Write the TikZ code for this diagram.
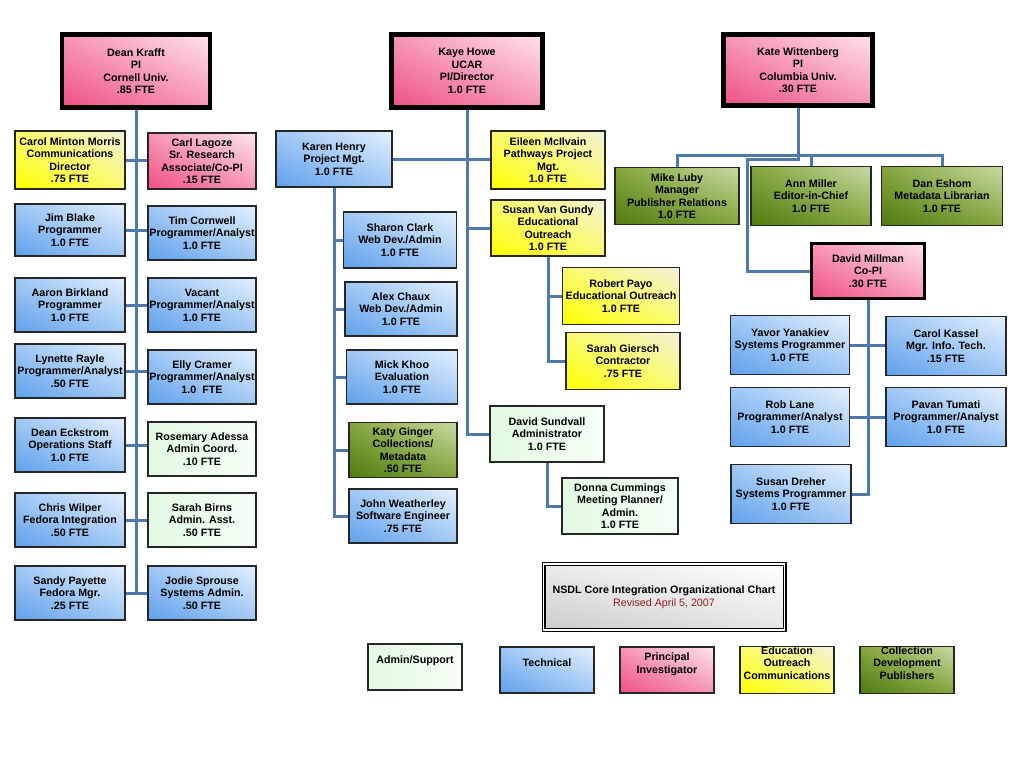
\documentclass[tikz,border=0pt]{standalone}
\usepackage{fontspec}
\setmainfont{Liberation Sans}
\usepackage{xcolor}
\usepackage{tikz}
\usetikzlibrary{positioning,shadings,backgrounds}
\definecolor{techlo}{RGB}{95,160,235}
\definecolor{techmid}{RGB}{160,200,245}
\definecolor{techhi}{RGB}{228,240,253}
\definecolor{pilo}{RGB}{238,80,130}
\definecolor{pimid}{RGB}{246,150,182}
\definecolor{pihi}{RGB}{255,228,236}
\definecolor{edulo}{RGB}{255,255,0}
\definecolor{edumid}{RGB}{250,250,110}
\definecolor{eduhi}{RGB}{242,242,218}
\definecolor{colllo}{RGB}{80,122,15}
\definecolor{collmid}{RGB}{132,166,60}
\definecolor{collhi}{RGB}{200,218,165}
\definecolor{admlo}{RGB}{226,249,226}
\definecolor{admhi}{RGB}{246,255,246}
\definecolor{linkblue}{RGB}{79,121,172}
\definecolor{revred}{RGB}{150,30,30}
\newcommand{\boxfont}{\fontsize{10.7}{12.5}\selectfont\bfseries}

\tikzset{
  orgbox/.style={draw=black!85, line width=1.4pt, align=center, font=\boxfont,
    inner sep=1pt, minimum width=108pt, minimum height=54pt},
  tech/.style={orgbox, lower left=techlo, upper right=techhi,
    upper left=techmid, lower right=techmid},
  pinode/.style={orgbox, lower left=pilo, upper right=pihi,
    upper left=pimid, lower right=pimid},
  pihead/.style={pinode, draw=black, line width=4.5pt},
  edu/.style={orgbox, lower left=edulo, upper right=eduhi,
    upper left=edumid, lower right=edumid},
  coll/.style={orgbox, lower left=colllo, upper right=collhi,
    upper left=collmid, lower right=collmid},
  admin/.style={orgbox, lower left=admlo, upper right=admhi,
    upper left=admlo, lower right=admhi},
  legend/.style={minimum width=94pt, minimum height=46pt, inner sep=0pt, text depth=14pt},
  titlebox/.style={draw=black, line width=1.3pt, double=white, double distance=1.4pt,
    lower left=black!20, upper right=white, upper left=black!8, lower right=black!10,
    align=center, font=\boxfont, minimum width=241pt, minimum height=66pt},
  link/.style={draw=linkblue, line width=3pt}
}

\begin{document}
\begin{tikzpicture}[x=1pt,y=-1pt]
\useasboundingbox (0,0) rectangle (1024,768);

% Cornell
\node[pihead, minimum width=148pt, minimum height=73pt] (krafft) at (136,71) {Dean Krafft\\PI\\Cornell Univ.\\.85 FTE};
\node[edu, minimum width=110pt, minimum height=58pt] (morris) at (70,160) {Carol Minton Morris\\Communications\\Director\\.75 FTE};
\node[pinode, minimum height=56pt] (lagoze) at (202,161) {Carl Lagoze\\Sr. Research\\Associate/Co-PI\\.15 FTE};
\node[tech, minimum width=110pt, minimum height=52pt] (blake) at (70,230) {Jim Blake\\Programmer\\1.0 FTE};
\node[tech] (cornwell) at (202,233) {Tim Cornwell\\Programmer/Analyst\\1.0 FTE};
\node[tech, minimum width=110pt] (birkland) at (70,305) {Aaron Birkland\\Programmer\\1.0 FTE};
\node[tech] (vacant) at (202,305) {Vacant\\Programmer/Analyst\\1.0 FTE};
\node[tech, minimum width=110pt] (rayle) at (70,371) {Lynette Rayle\\Programmer/Analyst\\.50 FTE};
\node[tech] (cramer) at (202,377) {Elly Cramer\\Programmer/Analyst\\1.0~~FTE};
\node[tech, minimum width=110pt] (eckstrom) at (70,445) {Dean Eckstrom\\Operations Staff\\1.0 FTE};
\node[admin] (adessa) at (202,449) {Rosemary Adessa\\Admin Coord.\\.10 FTE};
\node[tech, minimum width=110pt] (wilper) at (70,520) {Chris Wilper\\Fedora Integration\\.50 FTE};
\node[admin] (birns) at (202,520) {Sarah Birns\\Admin. Asst.\\.50 FTE};
\node[tech, minimum width=110pt] (payette) at (70,593) {Sandy Payette\\Fedora Mgr.\\.25 FTE};
\node[tech] (sprouse) at (202,593) {Jodie Sprouse\\Systems Admin.\\.50 FTE};

% UCAR
\node[pihead, minimum width=151pt, minimum height=73pt] (howe) at (467,71) {Kaye Howe\\UCAR\\PI/Director\\1.0 FTE};
\node[tech, minimum width=116pt, minimum height=56pt] (henry) at (334,159) {Karen Henry\\Project Mgt.\\1.0 FTE};
\node[edu, minimum width=114pt, minimum height=58pt] (mcilvain) at (548,160) {Eileen McIlvain\\Pathways Project\\Mgt.\\1.0 FTE};
\node[edu, minimum width=114pt, minimum height=56pt] (vangundy) at (548,228) {Susan Van Gundy\\Educational\\Outreach\\1.0 FTE};
\node[edu, minimum width=117pt, minimum height=57pt] (payo) at (621,296) {Robert Payo\\Educational Outreach\\1.0 FTE};
\node[edu, minimum width=114pt, minimum height=57pt] (giersch) at (623,361) {Sarah Giersch\\Contractor\\.75 FTE};
\node[admin, minimum width=114pt, minimum height=56pt] (sundvall) at (547,434) {David Sundvall\\Administrator\\1.0 FTE};
\node[admin, minimum width=116pt, minimum height=56pt] (cummings) at (620,506) {Donna Cummings\\Meeting Planner/\\Admin.\\1.0 FTE};
\node[tech, minimum width=113pt, minimum height=56pt] (clark) at (400,240) {Sharon Clark\\Web Dev./Admin\\1.0 FTE};
\node[tech, minimum width=112pt] (chaux) at (401,309) {Alex Chaux\\Web Dev./Admin\\1.0 FTE};
\node[tech, minimum width=111pt] (khoo) at (402,377) {Mick Khoo\\Evaluation\\1.0 FTE};
\node[coll, minimum height=55pt] (ginger) at (403,450) {Katy Ginger\\Collections/\\Metadata\\.50 FTE};
\node[tech] (weatherley) at (403,516) {John Weatherley\\Software Engineer\\.75 FTE};

% Columbia
\node[pihead, minimum width=149pt, minimum height=71pt] (wittenberg) at (798,70) {Kate Wittenberg\\PI\\Columbia Univ.\\.30 FTE};
\node[coll, minimum width=124pt, minimum height=57pt] (luby) at (677,196) {Mike Luby\\Manager\\Publisher Relations\\1.0 FTE};
\node[coll, minimum width=120pt, minimum height=59pt] (amiller) at (811,196) {Ann Miller\\Editor-in-Chief\\1.0 FTE};
\node[coll, minimum width=121pt, minimum height=59pt] (eshom) at (942,196) {Dan Eshom\\Metadata Librarian\\1.0 FTE};
\node[pihead, line width=3.5pt, minimum width=113pt, minimum height=55pt] (millman) at (868,271) {David Millman\\Co-PI\\.30 FTE};
\node[tech, minimum width=119pt, minimum height=59pt] (yanakiev) at (790,345) {Yavor Yanakiev\\Systems Programmer\\1.0 FTE};
\node[tech, minimum width=120pt, minimum height=59pt] (kassel) at (946,346) {Carol Kassel\\Mgr. Info. Tech.\\.15 FTE};
\node[tech, minimum width=119pt, minimum height=59pt] (lane) at (790,417) {Rob Lane\\Programmer/Analyst\\1.0 FTE};
\node[tech, minimum width=120pt, minimum height=59pt] (tumati) at (946,417) {Pavan Tumati\\Programmer/Analyst\\1.0 FTE};
\node[tech, minimum width=120pt, minimum height=59pt] (dreher) at (791,494) {Susan Dreher\\Systems Programmer\\1.0 FTE};

\node[titlebox] (title) at (664,597) {NSDL Core Integration Organizational Chart\\[0.5pt]{\mdseries\color{revred}Revised April 5, 2007}};

\node[admin, legend] (lgadmin) at (415,667) {Admin/Support};
\node[tech, legend] (lgtech) at (547,670) {Technical};
\node[pinode, legend] (lgpi) at (667,670) {Principal\\Investigator};
\node[edu, legend] (lgedu) at (787,670) {Education\\Outreach\\Communications};
\node[coll, legend] (lgcoll) at (907,670) {Collection\\Development\\Publishers};

\begin{scope}[on background layer]
\fill[white] (0,0) rectangle (1024,768);
\draw[link] (krafft.south) -- (krafft.south |- payette.east);
\foreach \a/\b in {morris/lagoze, blake/cornwell, birkland/vacant, rayle/cramer,
    eckstrom/adessa, wilper/birns, payette/sprouse}
  \draw[link] (\a.east) -- (\a.east -| \b.west);

\draw[link] (howe.south) -- (howe.south |- sundvall.west) -- (sundvall.west);
\draw[link] (howe.south |- vangundy.west) -- (vangundy.west);
\draw[link] (henry.east) -- (henry.east -| mcilvain.west);
\draw[link] (henry.south) -- (henry.south |- weatherley.west) -- (weatherley.west);
\foreach \c in {clark, chaux, khoo, ginger}
  \draw[link] (henry.south |- \c.west) -- (\c.west);
\draw[link] (vangundy.south) -- (vangundy.south |- giersch.west) -- (giersch.west);
\draw[link] (vangundy.south |- payo.west) -- (payo.west);
\draw[link] (sundvall.south) -- (sundvall.south |- cummings.west) -- (cummings.west);

\coordinate (wbus) at (798,155);
\coordinate (wturn) at (747,159);
\draw[link] (wittenberg.south) -- (wittenberg.south |- wturn) -- (wturn) |- (millman.west);
\draw[link] (luby.north) |- (wbus) -| (eshom.north);
\draw[link] (amiller.north) -- (amiller.north |- wbus);
\draw[link] (millman.south) -- (millman.south |- dreher.east) -- (dreher.east);
\draw[link] (yanakiev.east) -- (yanakiev.east -| kassel.west);
\draw[link] (lane.east) -- (lane.east -| tumati.west);
\end{scope}
\end{tikzpicture}
\end{document}
